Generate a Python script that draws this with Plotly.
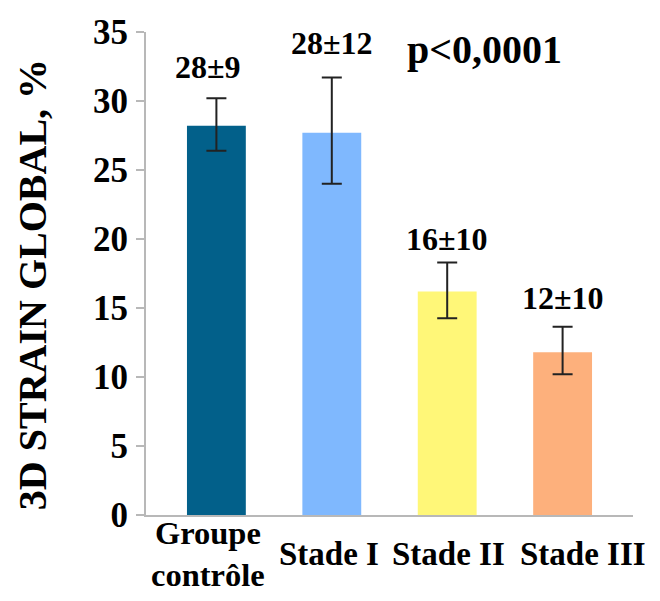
import plotly.graph_objects as go

categories = ["Groupe<br>contrôle", "Stade I", "Stade II", "Stade III"]
means = [28.2, 27.7, 16.2, 11.8]
err_plus = [2.0, 4.0, 2.1, 1.85]
err_minus = [1.8, 3.7, 1.95, 1.6]
labels = ["28±9", "28±12", "16±10", "12±10"]
p_text = "p<0,0001"
y_title = "3D STRAIN GLOBAL, %"
y_ticks = [0, 5, 10, 15, 20, 25, 30, 35]

colors = ["#02608A", "#7FB8FE", "#FFF778", "#FDB07C"]
label_shift = [31, 35, 23, 29]
label_dx = [-8, 0, 0, 0]
cat_dx = [-8, -3, 1, 20]

FONT = "Liberation Serif"

fig = go.Figure()
fig.add_trace(go.Bar(
    x=list(range(len(categories))),
    y=means,
    width=0.51,
    marker=dict(color=colors, line=dict(width=0)),
    error_y=dict(type="data", symmetric=False, array=err_plus, arrayminus=err_minus,
                 color="#222222", thickness=2, width=10),
))

for i, (lab, m, e) in enumerate(zip(labels, means, err_plus)):
    fig.add_annotation(x=i, y=m + e, xref="x", yref="y", text=lab, showarrow=False,
                       yanchor="middle", yshift=label_shift[i], xshift=label_dx[i],
                       font=dict(family=FONT, size=32, color="black", weight="bold"))

# category labels
for i, cat in enumerate(categories):
    two_lines = "<br>" in cat
    fig.add_annotation(x=i, y=0, xref="x", yref="paper", text=cat, showarrow=False,
                       yanchor="middle", yshift=-38.5, xshift=cat_dx[i],
                       font=dict(family=FONT, size=33 if not two_lines else 32.5,
                                 color="black", weight="bold"))

fig.add_annotation(x=2.32, y=33.75, xref="x", yref="y", text=p_text, showarrow=False,
                   yanchor="middle", font=dict(family=FONT, size=40, color="black", weight="bold"))

fig.add_annotation(x=-0.234, y=0.476, xref="paper", yref="paper", text=y_title, showarrow=False,
                   textangle=-90, xanchor="center", yanchor="middle",
                   font=dict(family=FONT, size=40, color="black", weight="bold"))

# the page body adds an 8px margin; the figure is sized so the plot lands where the reference has it
fig.update_layout(
    width=644, height=585,
    margin=dict(l=138, r=19, t=24, b=78),
    paper_bgcolor="white", plot_bgcolor="white",
    showlegend=False,
    font=dict(family=FONT, color="black"),
)
fig.update_xaxes(
    range=[-0.61, 3.61], tickmode="array", tickvals=list(range(len(categories))),
    showticklabels=False, showline=True, linecolor="#b8b8b8", linewidth=2,
    ticks="", showgrid=False, zeroline=False, automargin=False,
)
fig.update_yaxes(
    range=[0, 35], tickmode="array", tickvals=y_ticks,
    showline=True, linecolor="#b8b8b8", linewidth=2,
    ticks="outside", ticklen=8, tickcolor="#b8b8b8", tickwidth=2,
    showgrid=False, zeroline=False, ticklabelstandoff=1, automargin=False,
    tickfont=dict(family=FONT, size=35, color="black", weight="bold"),
)

fig.write_html("out.html")
